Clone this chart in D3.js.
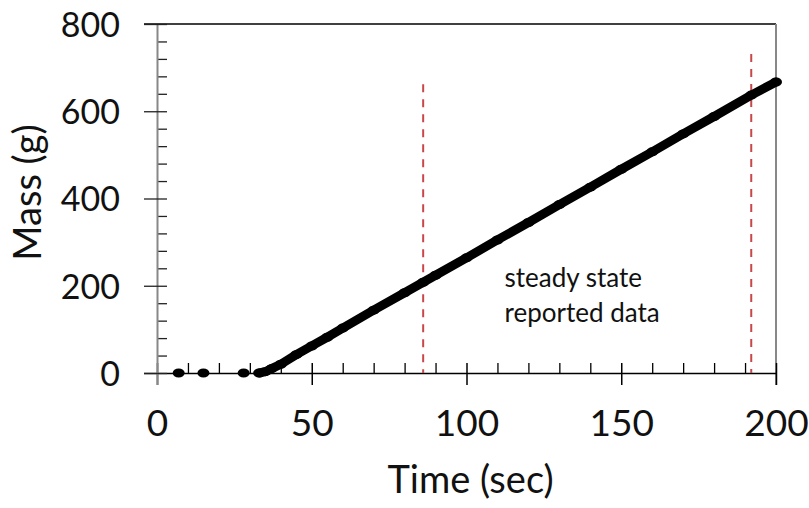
<!DOCTYPE html>
<meta charset="utf-8">
<script src="https://d3js.org/d3.v7.min.js"></script>
<style>
  body { margin: 0; background: #fff; }
  text { font-family: Lato, "Open Sans", sans-serif; fill: #111; }
</style>
<div id="my_dataviz"></div>
<script>
  // data
  var timeSec = [7, 15, 28, 33, 35, 37, 40, 45, 50, 55, 60, 70, 80, 86, 90, 100, 110, 120, 130, 140, 150, 160, 170, 180, 192, 200];
  var massG = [0, 0, 0, 0, 3, 10, 20, 42, 62, 82, 103, 144, 184, 208, 224, 264, 305, 345, 386, 426, 467, 507, 548, 588, 637, 667];
  var lineStart = 33; // continuous record begins here
  var steadyTimes = [86, 192];
  var steadyTops = [662, 731];
  var xTicks = [0, 50, 100, 150, 200];
  var yTicks = [0, 200, 400, 600, 800];
  var noteLines = ["steady state", "reported data"];

  var margin = { top: 24, right: 33, bottom: 135, left: 157 },
    width = 809 - margin.left - margin.right,
    height = 508 - margin.top - margin.bottom;

  var svg = d3.select("#my_dataviz")
    .append("svg")
    .attr("width", 809)
    .attr("height", 508)
    .append("g")
    .attr("transform", "translate(" + margin.left + "," + margin.top + ")");

  var x = d3.scaleLinear().domain([0, 200]).range([0, width]);
  var y = d3.scaleLinear().domain([0, 800]).range([height, 0]);

  // minor ticks (inside)
  svg.append("g")
    .attr("transform", "translate(0," + height + ")")
    .call(d3.axisTop(x).tickValues(d3.range(10, 200, 10).filter(function(d) { return d % 50 != 0 })).tickSize(10).tickFormat(""))
    .call(function(g) { g.select(".domain").remove() })
    .selectAll("line").attr("stroke", "#000").attr("stroke-width", 1.3);
  svg.append("g")
    .call(d3.axisRight(y).tickValues(d3.range(40, 800, 40).filter(function(d) { return d % 200 != 0 })).tickSize(10).tickFormat(""))
    .call(function(g) { g.select(".domain").remove() })
    .selectAll("line").attr("stroke", "#222").attr("stroke-width", 1.3);

  // frame: top black, right gray
  svg.append("line").attr("x1", -13).attr("x2", width).attr("y1", 0).attr("y2", 0)
    .attr("stroke", "#000").attr("stroke-width", 1.5);
  svg.append("line").attr("x1", width).attr("x2", width).attr("y1", 0).attr("y2", height + 12)
    .attr("stroke", "#888").attr("stroke-width", 2);

  // x axis
  var xAxis = svg.append("g")
    .attr("transform", "translate(0," + height + ")")
    .call(d3.axisBottom(x).tickValues(xTicks).tickSize(12).tickSizeOuter(0).tickPadding(25));
  xAxis.select(".domain").attr("d", "M-13,0.5H" + width).attr("stroke", "#000").attr("stroke-width", 1.5);
  xAxis.selectAll(".tick line").attr("y1", -10).attr("stroke", "#000").attr("stroke-width", 1.5);
  xAxis.selectAll(".tick text").style("font-size", "37px").attr("fill", "#111");

  // y axis
  var yAxis = svg.append("g")
    .call(d3.axisLeft(y).tickValues(yTicks).tickSize(13).tickSizeOuter(0).tickPadding(24));
  yAxis.select(".domain").attr("d", "M0.5,0V" + (height + 12)).attr("stroke", "#888").attr("stroke-width", 2);
  yAxis.selectAll(".tick line").attr("x2", -13).attr("x1", 10).attr("stroke", "#222").attr("stroke-width", 1.3);
  yAxis.selectAll(".tick text").style("font-size", "34px").attr("fill", "#111").attr("dy", "0.36em");

  // steady state markers
  svg.selectAll(".steady")
    .data(steadyTimes)
    .enter()
    .append("line")
    .attr("x1", function(d) { return x(d) })
    .attr("x2", function(d) { return x(d) })
    .attr("y1", function(d, i) { return y(steadyTops[i]) })
    .attr("y2", y(0))
    .attr("stroke", "#c9474a")
    .attr("stroke-width", 2)
    .attr("stroke-dasharray", "8,7");

  // data
  var pts = timeSec.map(function(t, i) { return { t: t, m: massG[i] } });
  var cont = pts.filter(function(d) { return d.t >= lineStart });
  svg.append("path")
    .datum(cont)
    .attr("fill", "none")
    .attr("stroke", "#000")
    .attr("stroke-width", 9)
    .attr("stroke-linecap", "round")
    .attr("stroke-linejoin", "round")
    .attr("d", d3.line().x(function(d) { return x(d.t) }).y(function(d) { return y(d.m) }));
  svg.selectAll(".dot")
    .data(pts)
    .enter()
    .append("ellipse")
    .attr("cx", function(d) { return x(d.t) })
    .attr("cy", function(d) { return y(d.m) })
    .attr("rx", 6)
    .attr("ry", 4.5)
    .attr("fill", "#000");

  // note
  svg.selectAll(".note")
    .data(noteLines)
    .enter()
    .append("text")
    .attr("x", x(112.3))
    .attr("y", function(d, i) { return y(197) + i * 35 })
    .style("font-size", "26px")
    .text(function(d) { return d });

  // axis titles
  svg.append("text")
    .attr("x", width / 2 + 4)
    .attr("y", height + 120)
    .attr("text-anchor", "middle")
    .style("font-size", "38px")
    .text("Time (sec)");
  svg.append("text")
    .attr("transform", "translate(" + (41 - margin.left) + "," + (height / 2 - 6) + ") rotate(-90)")
    .attr("text-anchor", "middle")
    .style("font-size", "38px")
    .text("Mass (g)");
</script>
